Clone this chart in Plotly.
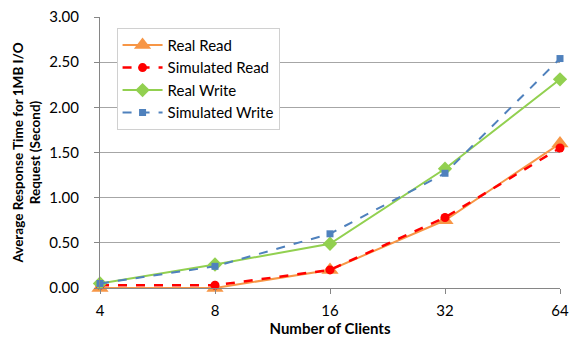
import plotly.graph_objects as go

clients = ["4", "8", "16", "32", "64"]
real_read = [0.00, 0.00, 0.20, 0.75, 1.60]
sim_read = [0.03, 0.03, 0.20, 0.78, 1.55]
real_write = [0.05, 0.26, 0.49, 1.32, 2.31]
sim_write = [0.05, 0.24, 0.60, 1.27, 2.54]
y_ticks = [0, 0.5, 1.0, 1.5, 2.0, 2.5, 3.0]
y_tick_text = ["0.00", "0.50", "1.00", "1.50", "2.00", "2.50", "3.00"]

FONT = "Lato, 'Open Sans', sans-serif"
FS = 15

fig = go.Figure()
fig.add_trace(go.Scatter(
    x=clients, y=real_read, name="Real Read", mode="lines+markers",
    line=dict(color="#F79646", width=2),
    marker=dict(symbol="triangle-up", size=15, color="#F79646"),
    cliponaxis=False))
fig.add_trace(go.Scatter(
    x=clients, y=sim_read, name="Simulated Read", mode="lines+markers",
    line=dict(color="#FF0000", width=2.5, dash="dash"),
    marker=dict(symbol="circle", size=9, color="#FF0000"),
    cliponaxis=False))
fig.add_trace(go.Scatter(
    x=clients, y=real_write, name="Real Write", mode="lines+markers",
    line=dict(color="#92D050", width=2),
    marker=dict(symbol="diamond", size=11, color="#92D050"),
    cliponaxis=False))
fig.add_trace(go.Scatter(
    x=clients, y=sim_write, name="Simulated Write", mode="lines+markers",
    line=dict(color="#4F81BD", width=2, dash="dash"),
    marker=dict(symbol="square", size=7, color="#4F81BD"),
    cliponaxis=False))

fig.update_layout(
    width=576, height=341,
    margin=dict(l=100, r=7, t=12, b=52),
    paper_bgcolor="white", plot_bgcolor="white",
    font=dict(family=FONT, size=FS, color="#000000"),
    legend=dict(
        x=0.036, y=0.96, xanchor="left", yanchor="top",
        bgcolor="white", bordercolor="#d0d0d0", borderwidth=1,
        font=dict(family=FONT, size=FS), tracegroupgap=0,
        itemwidth=40),
    xaxis=dict(
        type="category", range=[0, 4],
        showgrid=False, showline=True, linecolor="#868686", linewidth=1,
        ticks="outside", ticklen=5, tickcolor="#868686",
        ticklabelstandoff=4,
        tickfont=dict(family=FONT, size=FS),
        title=dict(text="<b>Number of Clients</b>", font=dict(family=FONT, size=FS), standoff=4)),
    yaxis=dict(
        range=[0, 3.0], tickvals=y_ticks, ticktext=y_tick_text,
        showgrid=True, gridcolor="#a6a6a6", gridwidth=1,
        showline=True, linecolor="#868686", linewidth=1,
        ticks="outside", ticklen=5, tickcolor="#868686",
        ticklabelstandoff=12,
        zeroline=False,
        tickfont=dict(family=FONT, size=FS),
        title=dict(text="<b>Average Response Time for 1MB I/O<br>Request (Second)</b>",
                   font=dict(family=FONT, size=13.5), standoff=5)),
)

fig.write_html("out.html")
